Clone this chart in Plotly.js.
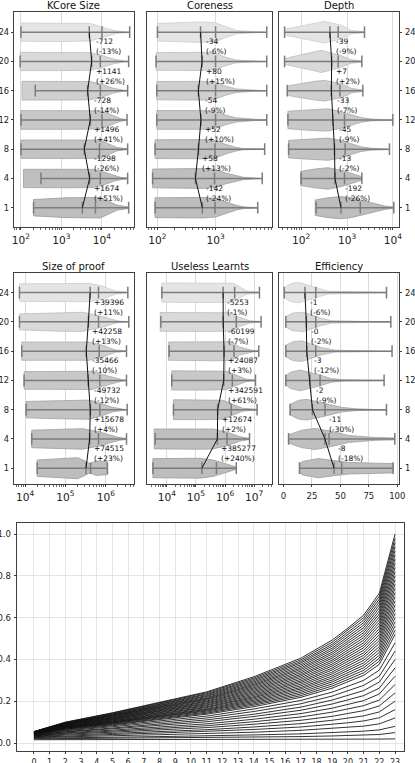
<!DOCTYPE html>
<html><head><meta charset="utf-8">
<script src="https://cdn.plot.ly/plotly-3.0.1.min.js"></script>
<style>html,body{margin:0;padding:0;background:#fff}#chart{width:415px;height:763px}</style>
</head><body><div id="chart"></div>
<script>
// ---------- data ----------
const levels = ['1','4','8','12','16','20','24'];

// KCore Size
const kcoreMin = [205, 312, 100, 100, 226, 96, 100];
const kcoreMax = [45500, 43000, 43000, 41400, 43000, 45500, 48200];
const kcoreMedian = [3282, 4956, 3658, 5154, 4426, 5567, 4855];
const kcoreMean = [6900, 9100, 8700, 10000, 9100, 9100, 10000];
const kcoreDelta = ['+1674','-1298','+1496','-728','+1141','-712'];
const kcorePct = ['+51%','-26%','+41%','-14%','+26%','-13%'];
const kcoreShapeX = [
  [205, 1370, 9100, 15000, 23400, 45500],
  [116, 1370, 6220, 11000, 19400, 28400, 43000],
  [100, 1370, 9100, 13300, 23400, 43000],
  [100, 1370, 9100, 13300, 19400, 28400, 41400],
  [106, 1370, 5150, 9100, 19400, 34300, 43000],
  [96, 1370, 5150, 9100, 19400, 34300, 45500],
  [100, 1370, 5150, 9100, 13300, 23400, 48200]];
const kcoreShapeW = [
  [.70, .85, .88, .50, .22, .06],
  [.78, .80, .78, .55, .25, .10, .03],
  [.78, .80, .78, .50, .15, .03],
  [.80, .80, .78, .60, .35, .12, .03],
  [.80, .80, .78, .60, .20, .05, .02],
  [.78, .78, .75, .55, .20, .05, .02],
  [.78, .80, .75, .50, .30, .10, .02]];

// Coreness
const coreMin = [90.9, 82.5, 90.9, 97.3, 97.3, 94.7, 100];
const coreMax = [5320, 6360, 7000, 7600, 7600, 7600, 7600];
const coreMedian = [592, 450, 508, 560, 506, 586, 552];
const coreMean = [977, 960, 980, 1000, 1000, 1000, 1000];
const coreDelta = ['-142','+58','+52','-54','+80','-34'];
const corePct = ['-24%','+13%','+10%','-9%','+15%','-6%'];
const coreShapeX = [
  [90.9, 578, 1000, 1510, 2280, 2990, 5320],
  [82.5, 578, 1000, 1510, 2280, 2990, 4520, 6360],
  [90.9, 578, 1000, 1510, 2280, 2990, 7000],
  [97.3, 578, 1000, 1510, 2280, 4520, 7600],
  [97.3, 578, 1000, 1510, 2280, 4520, 7600],
  [94.7, 578, 1000, 1510, 2280, 4520, 7600],
  [100, 578, 1000, 1510, 2280, 4520, 7600]];
const coreShapeW = [
  [.85, .88, .80, .50, .20, .08, .02],
  [.80, .85, .78, .45, .25, .10, .04, .02],
  [.80, .82, .75, .40, .15, .05, .02],
  [.80, .80, .72, .40, .18, .06, .02],
  [.78, .80, .70, .38, .15, .05, .02],
  [.75, .78, .70, .35, .12, .04, .02],
  [.75, .88, .80, .45, .15, .05, .02]];

// Depth
const depthMin = [212, 100, 53, 51.2, 49.6, 43.3, 43.3];
const depthMax = [10500, 2108, 8450, 10000, 2215, 2108, 2408];
const depthMedian = [738, 546, 533, 488, 455, 462, 423];
const depthMean = [1950, 882, 912, 882, 700, 640, 640];
const depthDelta = ['-192','-13','-45','-33','+7','-39'];
const depthPct = ['-26%','-2%','-9%','-7%','+2%','-9%'];
const depthShapeX = [
  [202, 382, 746, 1233, 2850, 6580, 10500],
  [96.7, 195, 382, 746, 1233, 2108],
  [53, 195, 382, 746, 1233, 2037, 3370, 8450],
  [51.2, 195, 382, 746, 1233, 2037, 3370, 10000],
  [49.6, 195, 323, 746, 1233, 2215],
  [43.3, 195, 273, 746, 1233, 2108],
  [43.3, 195, 323, 746, 1233, 2408]];
const depthShapeW = [
  [.66, .85, .95, .85, .50, .15, .05],
  [.60, .80, .92, .70, .45, .15],
  [.75, .90, .95, .75, .45, .20, .08, .03],
  [.75, .92, .95, .70, .45, .20, .08, .03],
  [.40, .80, .88, .60, .20, .05],
  [.25, .80, .95, .50, .15, .04],
  [.25, .75, .92, .60, .15, .04]];

// Size of proof
const proofMin = [20000, 14600, 10600, 9460, 8280, 7260, 7260];
const proofMax = [1099000, 3267000, 3394000, 3267000, 3267000, 3725000, 3524000];
const proofMedian = [324000, 398500, 414200, 364400, 329000, 371200, 410600];
const proofMean = [420000, 661000, 713000, 713000, 687000, 661000, 661000];
const proofDelta = ['+74515','+15678','-49732','-35466','+42258','+39396'];
const proofPct = ['+23%','+4%','-12%','-10%','+13%','+11%'];
const proofShapeX = [
  [20000, 71900, 202000, 336000, 406000, 568000, 1099000],
  [14600, 71900, 268000, 687000, 1208000, 2120000, 3267000],
  [10600, 71900, 391000, 829000, 1456000, 2560000, 3394000],
  [9460, 71900, 471000, 829000, 1456000, 2560000, 3267000],
  [8280, 71900, 391000, 829000, 1208000, 1758000, 3267000],
  [7260, 71900, 268000, 829000, 1456000, 2120000, 3725000],
  [7260, 71900, 391000, 829000, 1208000, 1758000, 3524000]];
const proofShapeW = [
  [.70, .82, .90, .55, .38, .62, .55],
  [.75, .85, .88, .60, .35, .12, .04],
  [.70, .78, .82, .50, .20, .06, .03],
  [.75, .78, .78, .50, .25, .06, .03],
  [.78, .80, .78, .50, .28, .10, .02],
  [.68, .80, .82, .45, .18, .06, .02],
  [.75, .78, .78, .55, .35, .12, .02]];

// Useless Learnts
const uselessMin = [3330, 4000, 16900, 14800, 12000, 6240, 6760];
const uselessMax = [2430000, 6930000, 12600000, 11100000, 14400000, 17300000, 15200000];
const uselessMedian = [160500, 545800, 558500, 901100, 925200, 865000, 859700];
const uselessMean = [507000, 1170000, 1640000, 1780000, 2030000, 2430000, 2140000];
const uselessDelta = ['+385277','+12674','+342591','+24087','-60199','-5253'];
const uselessPct = ['+240%','+2%','+61%','+3%','-7%','-1%'];
const uselessShapeX = [
  [3330, 137000, 390000, 1110000, 2430000],
  [3700, 137000, 390000, 1110000, 3160000, 6930000],
  [16900, 390000, 855000, 1640000, 4110000, 12600000],
  [14800, 390000, 1110000, 2430000, 5340000, 11100000],
  [11400, 390000, 1640000, 3160000, 9010000, 14400000],
  [5930, 390000, 1640000, 3160000, 6930000, 17300000],
  [6760, 390000, 1870000, 3160000, 5340000, 15200000]];
const uselessShapeW = [
  [.82, .85, .70, .35, .10],
  [.85, .88, .85, .60, .20, .04],
  [.85, .85, .80, .50, .12, .03],
  [.82, .82, .78, .45, .10, .03],
  [.78, .82, .80, .35, .06, .03],
  [.80, .82, .78, .40, .10, .03],
  [.82, .85, .80, .50, .15, .03]];

// Efficiency
const effMin = [14.0, 4.4, 5.8, 2.0, 2.0, 2.0, 0.6];
const effMax = [96.3, 97.8, 90.5, 88.4, 95.4, 94.3, 90.5];
const effMedian = [44.4, 36.4, 25.4, 23.2, 20.4, 20.0, 18.8];
const effMean = [51.1, 40.0, 36.5, 32.1, 28.3, 28.3, 28.3];
const effDelta = ['-8','-11','-2','-3','-0','-1'];
const effPct = ['-18%','-30%','-9%','-12%','-2%','-6%'];
const effShapeX = [
  [14.0, 17.5, 30.6, 43.8, 56.9, 80.3, 96.3],
  [4.4, 16.1, 27.7, 42.3, 56.9, 80.3, 97.8],
  [5.8, 13.1, 20.4, 36.5, 51.1, 62.8, 90.5],
  [2.0, 6.0, 14.6, 30.6, 42.3, 54.0, 88.4],
  [2.0, 8.0, 16.1, 33.6, 45.2, 95.4],
  [2.0, 8.0, 17.5, 33.6, 42.3, 94.3],
  [0.6, 6.0, 13.1, 30.6, 39.4, 90.5]];
const effShapeW = [
  [.40, .60, .82, .65, .50, .43, .40],
  [.35, .75, .90, .65, .30, .12, .08],
  [.45, .80, .88, .55, .20, .08, .03],
  [.40, .70, .88, .50, .15, .05, .02],
  [.50, .80, .88, .30, .08, .02],
  [.45, .75, .82, .30, .10, .02],
  [.40, .75, .88, .35, .12, .02]];

// Bottom chart: curves sampled at these steps
const stepTicks = ['0','1','2','3','4','5','6','7','8','9','10','11','12','13','14','15','16','17','18','19','20','21','22','23'];
const curveX = [0, 2, 5, 8, 11, 14, 17, 19, 20, 21, 22, 23];
const curves = [
  [0.055,0.100,0.145,0.195,0.245,0.317,0.406,0.493,0.550,0.612,0.717,1.000],
  [0.055,0.099,0.143,0.192,0.241,0.311,0.398,0.483,0.540,0.600,0.703,0.980],
  [0.054,0.097,0.140,0.188,0.236,0.305,0.390,0.473,0.529,0.588,0.689,0.960],
  [0.054,0.096,0.138,0.185,0.232,0.299,0.383,0.464,0.518,0.576,0.675,0.940],
  [0.053,0.095,0.135,0.181,0.227,0.293,0.375,0.454,0.507,0.564,0.661,0.920],
  [0.053,0.094,0.133,0.178,0.223,0.287,0.367,0.445,0.497,0.552,0.647,0.900],
  [0.052,0.092,0.131,0.175,0.218,0.281,0.359,0.435,0.486,0.540,0.632,0.880],
  [0.052,0.091,0.129,0.172,0.214,0.276,0.352,0.426,0.475,0.528,0.618,0.860],
  [0.051,0.089,0.126,0.168,0.210,0.270,0.344,0.416,0.464,0.516,0.604,0.840],
  [0.051,0.088,0.124,0.165,0.206,0.264,0.336,0.407,0.454,0.504,0.590,0.820],
  [0.050,0.086,0.121,0.161,0.201,0.258,0.328,0.397,0.443,0.492,0.576,0.800],
  [0.050,0.085,0.119,0.158,0.197,0.252,0.321,0.388,0.433,0.480,0.562,0.780],
  [0.049,0.083,0.117,0.154,0.192,0.246,0.313,0.378,0.422,0.468,0.547,0.760],
  [0.049,0.082,0.115,0.151,0.188,0.240,0.305,0.369,0.411,0.456,0.533,0.740],
  [0.048,0.080,0.112,0.148,0.183,0.234,0.297,0.359,0.400,0.444,0.519,0.720],
  [0.048,0.079,0.110,0.145,0.179,0.228,0.290,0.350,0.390,0.432,0.505,0.700],
  [0.047,0.077,0.107,0.141,0.174,0.222,0.282,0.340,0.379,0.420,0.491,0.680],
  [0.047,0.076,0.105,0.138,0.170,0.217,0.274,0.331,0.368,0.408,0.477,0.660],
  [0.046,0.075,0.102,0.134,0.165,0.211,0.266,0.321,0.357,0.396,0.462,0.640],
  [0.046,0.074,0.100,0.131,0.161,0.205,0.259,0.312,0.347,0.384,0.448,0.620],
  [0.045,0.072,0.098,0.127,0.157,0.199,0.251,0.302,0.336,0.372,0.434,0.600],
  [0.045,0.071,0.096,0.124,0.153,0.193,0.243,0.293,0.325,0.360,0.420,0.580],
  [0.044,0.069,0.093,0.120,0.148,0.187,0.235,0.283,0.314,0.348,0.406,0.560],
  [0.043,0.067,0.090,0.117,0.143,0.181,0.227,0.273,0.304,0.336,0.392,0.540],
  [0.042,0.065,0.087,0.113,0.138,0.174,0.219,0.263,0.293,0.324,0.377,0.520],
  [0.041,0.062,0.083,0.106,0.129,0.163,0.204,0.244,0.271,0.300,0.349,0.480],
  [0.040,0.059,0.078,0.099,0.120,0.151,0.188,0.225,0.250,0.276,0.320,0.440],
  [0.038,0.055,0.072,0.092,0.111,0.138,0.172,0.206,0.228,0.251,0.292,0.400],
  [0.037,0.053,0.068,0.085,0.102,0.127,0.157,0.187,0.206,0.227,0.263,0.360],
  [0.035,0.049,0.062,0.077,0.092,0.114,0.141,0.167,0.184,0.203,0.235,0.320],
  [0.034,0.046,0.057,0.070,0.083,0.102,0.125,0.148,0.163,0.179,0.206,0.280],
  [0.032,0.042,0.052,0.063,0.074,0.090,0.109,0.128,0.141,0.155,0.178,0.240],
  [0.030,0.038,0.046,0.055,0.064,0.077,0.093,0.109,0.119,0.130,0.149,0.200],
  [0.028,0.034,0.041,0.048,0.055,0.065,0.077,0.089,0.097,0.106,0.121,0.160],
  [0.026,0.031,0.035,0.040,0.045,0.052,0.061,0.070,0.075,0.081,0.092,0.120],
  [0.023,0.026,0.028,0.031,0.034,0.039,0.044,0.049,0.053,0.057,0.063,0.080],
  [0.020,0.021,0.023,0.024,0.026,0.028,0.031,0.034,0.036,0.038,0.041,0.050],
  [0.016,0.016,0.016,0.017,0.017,0.017,0.017,0.018,0.018,0.018,0.019,0.020]];

// ---------- styling / layout ----------
const FONT = 'DejaVu Sans, Verdana, sans-serif';
const HALF = 0.4, CAP = 0.2;
const fills = ['#bdbdbd','#bfbfbf','#c3c3c3','#c8c8c8','#cfcfcf','#d9d9d9','#e4e4e4'];
const edges = ['#9c9c9c','#9e9e9e','#a2a2a2','#a8a8a8','#b0b0b0','#bdbdbd','#cdcdcd'];
const W = 415, H = 763;
const colsPx = [[14,134],[147,272.5],[279,399]];
const rowsPx = [[12,227],[273,484]];
const rowRange = [[-0.66,6.69],[-0.54,6.67]];

const panels = [
  {title:'KCore Size', log:true, range:[1.83,4.79], min:kcoreMin, max:kcoreMax, med:kcoreMedian, mean:kcoreMean, delta:kcoreDelta, pct:kcorePct, sx:kcoreShapeX, sw:kcoreShapeW},
  {title:'Coreness', log:true, range:[1.82,3.98], min:coreMin, max:coreMax, med:coreMedian, mean:coreMean, delta:coreDelta, pct:corePct, sx:coreShapeX, sw:coreShapeW},
  {title:'Depth', log:true, range:[1.515,4.135], min:depthMin, max:depthMax, med:depthMedian, mean:depthMean, delta:depthDelta, pct:depthPct, sx:depthShapeX, sw:depthShapeW},
  {title:'Size of proof', log:true, range:[3.726,6.70], min:proofMin, max:proofMax, med:proofMedian, mean:proofMean, delta:proofDelta, pct:proofPct, sx:proofShapeX, sw:proofShapeW},
  {title:'Useless Learnts', log:true, range:[3.32,7.63], min:uselessMin, max:uselessMax, med:uselessMedian, mean:uselessMean, delta:uselessDelta, pct:uselessPct, sx:uselessShapeX, sw:uselessShapeW},
  {title:'Efficiency', log:false, range:[-4,101.5], min:effMin, max:effMax, med:effMedian, mean:effMean, delta:effDelta, pct:effPct, sx:effShapeX, sw:effShapeW}
];

const traces = [];
const annotations = [];
const layout = {
  width:W, height:H, margin:{l:0,r:0,t:0,b:0}, showlegend:false,
  paper_bgcolor:'#fff', plot_bgcolor:'#fff',
  font:{family:FONT, size:8.5, color:'#222'}
};
const axLine = {showline:true, mirror:true, linecolor:'#2a2a2a', linewidth:0.9, zeroline:false};
const tickStyle = {ticks:'outside', ticklen:2.5, tickwidth:0.9, tickcolor:'#2a2a2a', ticklabelstandoff:1};

// minor tick positions (2..9 x 10^d) inside an axis log-range
function minorTicks(range) {
  const out = [];
  for (let d = Math.floor(range[0]); d <= Math.ceil(range[1]); d++) {
    for (let m = 2; m <= 9; m++) {
      const lv = d + Math.log10(m);
      if (lv > range[0] && lv < range[1]) out.push(m * Math.pow(10, d));
    }
  }
  return out;
}

let extraAxis = 8;
panels.forEach((p, k) => {
  const r = Math.floor(k/3), c = k%3, n = k+1;
  const xa = 'x'+n, ya = 'y'+n;
  const xd = [colsPx[c][0]/W, colsPx[c][1]/W];
  const yd = [1-rowsPx[r][1]/H, 1-rowsPx[r][0]/H];
  layout['xaxis'+n] = Object.assign({}, axLine, tickStyle, {
    domain:xd, anchor:ya, type:p.log?'log':'linear', range:p.range,
    showgrid:true, gridcolor:'#d6d6d6', gridwidth:0.9,
    tickfont:{size:8.5, family:FONT, color:'#222'}
  }, p.log ? {dtick:1, exponentformat:'power'} : {tick0:0, dtick:25});
  if (p.log) {
    // overlay axis carrying only the minor ticks
    const mName = 'xaxis' + extraAxis;
    layout[mName] = {domain:xd, anchor:ya, overlaying:xa, side:'bottom', type:'log', range:p.range,
      tickvals:minorTicks(p.range), ticks:'outside', ticklen:1.6, tickwidth:0.7, tickcolor:'#2a2a2a',
      showticklabels:false, showgrid:false, showline:false, zeroline:false};
    traces.push({type:'scatter', mode:'lines', x:[], y:[], xaxis:'x'+extraAxis, yaxis:ya, hoverinfo:'skip'});
    extraAxis++;
  }
  layout['yaxis'+n] = Object.assign({}, axLine, tickStyle, {
    domain:yd, anchor:xa, range:rowRange[r], tickvals:[0,1,2,3,4,5,6], ticktext:levels,
    showgrid:false, ticks: c===1 ? '' : 'outside', ticklabelstandoff: c===0 ? 0 : 1,
    showticklabels: c!==1, side: c===2 ? 'right' : 'left',
    tickfont:{size:8.3, family:FONT, color:'#222'}
  });
  // violin bodies
  for (let i = 0; i < 7; i++) {
    const xs = p.sx[i], ws = p.sw[i];
    const rx = xs.slice().reverse(), rw = ws.slice().reverse();
    const px = xs.concat(rx, [xs[0]]);
    const py = ws.map(w => i + w*HALF).concat(rw.map(w => i - w*HALF), [i + ws[0]*HALF]);
    traces.push({type:'scatter', mode:'lines', x:px, y:py, xaxis:xa, yaxis:ya,
      fill:'toself', fillcolor:fills[i], line:{color:edges[i], width:0.8}, hoverinfo:'skip'});
  }
  // whiskers, caps, median & mean ticks
  for (let i = 0; i < 7; i++) {
    traces.push({type:'scatter', mode:'lines', x:[p.min[i], p.max[i]], y:[i, i], xaxis:xa, yaxis:ya,
      line:{color:'#7c7c7c', width:1.5}, hoverinfo:'skip'});
    const vx = [], vy = [];
    [p.min[i], p.max[i], p.med[i], p.mean[i]].forEach(v => { vx.push(v, v, null); vy.push(i-CAP, i+CAP, null); });
    traces.push({type:'scatter', mode:'lines', x:vx, y:vy, xaxis:xa, yaxis:ya,
      line:{color:'#7c7c7c', width:1.5}, hoverinfo:'skip'});
  }
  // median connection line
  traces.push({type:'scatter', mode:'lines', x:p.med, y:[0,1,2,3,4,5,6], xaxis:xa, yaxis:ya,
    line:{color:'#111', width:1}, hoverinfo:'skip'});
  // change labels
  for (let i = 0; i < 6; i++) {
    const mx = Math.max(p.med[i], p.med[i+1]);
    annotations.push({xref:xa, yref:ya, x:p.log?Math.log10(mx):mx, y:i+0.5,
      text:p.delta[i]+'<br>('+p.pct[i]+')', showarrow:false, xanchor:'left', yanchor:'middle',
      align:'left', xshift:3, borderpad:0, font:{size:7.5, family:FONT, color:'#111'}});
  }
  // title
  annotations.push({xref:'paper', yref:'paper', x:(xd[0]+xd[1])/2, y:1-(rowsPx[r][0]-6.5)/H,
    yanchor:'middle', xanchor:'center', borderpad:0,
    text:p.title, showarrow:false, font:{size:10, family:FONT, color:'#111'}});
});

// bottom chart
layout.xaxis7 = Object.assign({}, axLine, tickStyle, {
  domain:[17/W, 404/W], anchor:'y7', range:[-1.08, 23.57],
  tickvals:stepTicks.map(Number), ticktext:stepTicks,
  showgrid:true, gridcolor:'#dedede', gridwidth:0.8, tickfont:{size:8, family:FONT, color:'#222'}
});
layout.yaxis7 = Object.assign({}, axLine, tickStyle, {
  domain:[1-751/H, 1-523/H], anchor:'x7', range:[-0.038, 1.053],
  tickvals:[0,0.2,0.4,0.6,0.8,1.0], ticktext:['0.0','0.2','0.4','0.6','0.8','1.0'],
  showgrid:true, gridcolor:'#dedede', gridwidth:0.8, tickfont:{size:8.5, family:FONT, color:'#222'}
});
curves.forEach(cv => {
  traces.push({type:'scatter', mode:'lines', x:curveX, y:cv, xaxis:'x7', yaxis:'y7',
    line:{color:'rgba(15,15,15,0.85)', width:1}, hoverinfo:'skip'});
});

layout.annotations = annotations;
Plotly.newPlot('chart', traces, layout, {staticPlot:true, displayModeBar:false});
</script>
</body></html>
